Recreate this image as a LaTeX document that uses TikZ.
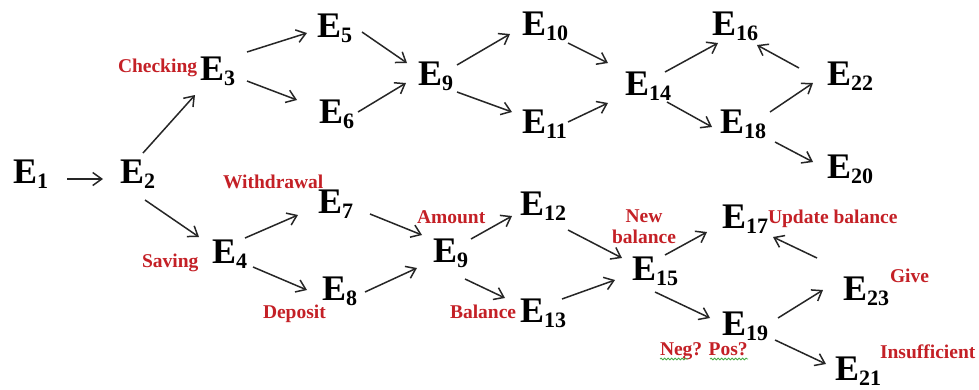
\documentclass[tikz,border=0pt]{standalone}
\usepackage{fontspec}
\setmainfont{Liberation Serif}
\usetikzlibrary{arrows.meta,calc,decorations.pathmorphing}
\definecolor{lblred}{RGB}{196,32,38}
\definecolor{wavygreen}{RGB}{70,170,70}
\newcommand{\Ev}[1]{{\fontsize{36}{36}\selectfont E}\raisebox{-5pt}{\fontsize{22}{22}\selectfont #1}}
\begin{document}
\begin{tikzpicture}[x=1pt,y=-1pt,
  ev/.style={inner sep=0pt,outer sep=0pt,anchor=base west,font=\bfseries},
  lbl/.style={inner sep=0pt,outer sep=0pt,anchor=base west,text=lblred,font=\bfseries\fontsize{19.5}{20}\selectfont},
  arr/.style={-{Straight Barb[length=9pt,width=13pt]},line width=1.5pt,draw=black!85},
  spell/.style={draw=wavygreen,line width=0.8pt,decorate,decoration={snake,amplitude=0.9pt,segment length=3.5pt}}]
\fill[white] (0,0) rectangle (979,389);
\useasboundingbox (0,0) rectangle (979,389);

% red labels
\node[lbl] (lchk) at (118,72) {Checking};
\node[lbl] (lwd) at (223,188) {Withdrawal};
\node[lbl] (lsav) at (142,267) {Saving};
\node[lbl] (ldep) at (263,318) {Deposit};
\node[lbl] (lamt) at (417,223) {Amount};
\node[lbl] (lbal) at (450,318) {Balance};
\node[lbl,anchor=base] (lnew) at (644,222) {New};
\node[lbl,anchor=base] (lnewb) at (644,243) {balance};
\node[lbl] (lupd) at (768,223) {Update balance};
\node[lbl] (lgive) at (890,282) {Give};
\node[lbl] (lins) at (880,358) {Insufficient};
\node[lbl] (lneg) at (660,355) {Neg? Pos?};
\draw[spell] ($(lneg.base west)+(0,4)$) -- ($(lneg.base west)+(28,4)$);
\draw[spell] ($(lneg.base west)+(50,4)$) -- ($(lneg.base west)+(88,4)$);

% event nodes
\node[ev] (E1) at (13,183) {\Ev{1}};
\node[ev] (E2) at (120,183) {\Ev{2}};
\node[ev] (E3) at (200,80) {\Ev{3}};
\node[ev] (E4) at (212,263) {\Ev{4}};
\node[ev] (E5) at (317,37) {\Ev{5}};
\node[ev] (E6) at (319,123) {\Ev{6}};
\node[ev] (E9a) at (418,85) {\Ev{9}};
\node[ev] (E7) at (318,213) {\Ev{7}};
\node[ev] (E8) at (322,300) {\Ev{8}};
\node[ev] (E9b) at (433,262) {\Ev{9}};
\node[ev] (E10) at (522,35) {\Ev{10}};
\node[ev] (E11) at (522,133) {\Ev{11}};
\node[ev] (E12) at (520,215) {\Ev{12}};
\node[ev] (E13) at (520,322) {\Ev{13}};
\node[ev] (E14) at (625,95) {\Ev{14}};
\node[ev] (E15) at (632,280) {\Ev{15}};
\node[ev] (E16) at (712,35) {\Ev{16}};
\node[ev] (E17) at (722,228) {\Ev{17}};
\node[ev] (E18) at (720,133) {\Ev{18}};
\node[ev] (E19) at (722,335) {\Ev{19}};
\node[ev] (E20) at (827,178) {\Ev{20}};
\node[ev] (E21) at (835,380) {\Ev{21}};
\node[ev] (E22) at (827,85) {\Ev{22}};
\node[ev] (E23) at (843,300) {\Ev{23}};

% arrows
\draw[arr] ($(E1.base west)+(54,-4)$) -- ($(E2.base west)+(-17,-4)$);
\draw[arr] ($(E2.base west)+(23,-30)$) -- ($(E3.base west)+(-5,15)$);
\draw[arr] ($(E2.base west)+(25,17)$) -- ($(E4.base west)+(-13,-26)$);
\draw[arr] ($(E3.base west)+(47,-28)$) -- ($(E5.base west)+(-10,-4)$);
\draw[arr] ($(E3.base west)+(47,1)$) -- ($(E6.base west)+(-22,-23)$);
\draw[arr] ($(E5.base west)+(45,-5)$) -- ($(E9a.base west)+(-11,-22)$);
\draw[arr] ($(E6.base west)+(39,-11)$) -- ($(E9a.base west)+(-12,-2)$);
\draw[arr] ($(E9a.base west)+(39,-20)$) -- ($(E10.base west)+(-12,-1)$);
\draw[arr] ($(E9a.base west)+(39,7)$) -- ($(E11.base west)+(-10,-21)$);
\draw[arr] ($(E10.base west)+(46,8)$) -- ($(E14.base west)+(-17,-32)$);
\draw[arr] ($(E11.base west)+(46,-11)$) -- ($(E14.base west)+(-17,8)$);
\draw[arr] ($(E14.base west)+(40,-23)$) -- ($(E16.base west)+(6,8)$);
\draw[arr] ($(E14.base west)+(42,7)$) -- ($(E18.base west)+(-8,-6)$);
\draw[arr] ($(E22.base west)+(-28,-17)$) -- ($(E16.base west)+(45,10)$);
\draw[arr] ($(E18.base west)+(50,-21)$) -- ($(E22.base west)+(-14,-2)$);
\draw[arr] ($(E18.base west)+(55,9)$) -- ($(E20.base west)+(-14,-16)$);
\draw[arr] ($(E4.base west)+(33,-25)$) -- ($(E7.base west)+(-20,2)$);
\draw[arr] ($(E4.base west)+(41,4)$) -- ($(E8.base west)+(-15,-10)$);
\draw[arr] ($(E7.base west)+(52,1)$) -- ($(E9b.base west)+(-11,-27)$);
\draw[arr] ($(E8.base west)+(43,-8)$) -- ($(E9b.base west)+(-16,6)$);
\draw[arr] ($(E9b.base west)+(38,-23)$) -- ($(E12.base west)+(-8,1)$);
\draw[arr] ($(E9b.base west)+(32,17)$) -- ($(E13.base west)+(-15,-24)$);
\draw[arr] ($(E12.base west)+(48,15)$) -- ($(E15.base west)+(-10,-22)$);
\draw[arr] ($(E13.base west)+(42,-23)$) -- ($(E15.base west)+(-17,0)$);
\draw[arr] ($(E15.base west)+(33,-25)$) -- ($(E17.base west)+(-15,4)$);
\draw[arr] ($(E23.base west)+(-26,-42)$) -- ($(E17.base west)+(51,9)$);
\draw[arr] ($(E15.base west)+(23,12)$) -- ($(E19.base west)+(-12,-17)$);
\draw[arr] ($(E19.base west)+(56,-17)$) -- ($(E23.base west)+(-20,-10)$);
\draw[arr] ($(E19.base west)+(53,5)$) -- ($(E21.base west)+(-9,-16)$);
\end{tikzpicture}
\end{document}
